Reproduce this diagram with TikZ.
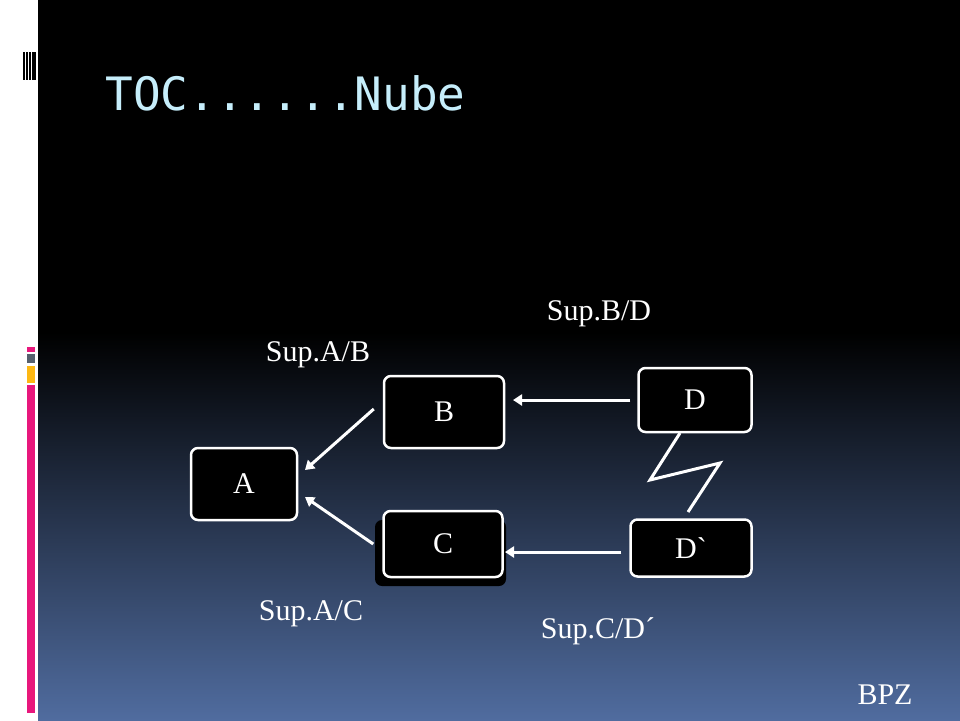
\documentclass[tikz,border=0pt]{standalone}
\usepackage{fontspec}
\setmainfont{Liberation Serif}[Ligatures=TeXOff]
\newfontfamily\titlefont{DejaVu Sans Mono}
\usetikzlibrary{arrows.meta,shadows}
\definecolor{bgblue}{HTML}{506C9F}
\definecolor{ttl}{HTML}{C6EEFB}
\definecolor{pinkbar}{HTML}{E8177C}
\definecolor{graybar}{HTML}{56606E}
\definecolor{yelbar}{HTML}{FDB813}
\tikzset{
 box/.style={draw=white,line width=2.5pt,rounded corners=7pt,fill=black,text=white,font=\fontsize{30}{34}\selectfont},
 lbl/.style={text=white,font=\fontsize{30}{34}\selectfont},
 arr/.style={white,line width=3pt,-{Triangle[length=9pt,width=11pt]}},
}
\begin{document}
\begin{tikzpicture}[x=1pt,y=-1pt]
\useasboundingbox (0,0) rectangle (960,720);
\fill[white] (0,0) rectangle (960,720);
\fill[black] (38,0) rectangle (960,333);
\shade[top color=black,bottom color=bgblue] (38,332) rectangle (960,720);
\foreach \x in {23,26,29,32,34} \fill[black] (\x,52) rectangle (\x+1.5,80);
\fill[pinkbar] (27,347) rectangle (35,352);
\fill[graybar] (27,354) rectangle (35,363);
\fill[yelbar] (27,366) rectangle (35,383);
\fill[pinkbar] (27,385) rectangle (35,713);
\node[anchor=west,text=ttl,font=\titlefont\fontsize{46}{50}\selectfont] (title) at (102,93) {TOC......Nube};
\node[box,minimum width=106,minimum height=72] (A) at (244,484) {A};
\node[box,minimum width=120,minimum height=72] (B) at (444,412) {B};
\fill[black,rounded corners=7pt] (375,520) rectangle (506,586);
\node[box,minimum width=119,minimum height=66] (C) at (443,544) {C};
\node[box,minimum width=113,minimum height=64] (D) at (695,400) {D};
\node[box,minimum width=121,minimum height=57] (Dp) at (691,548) {D\char96};
\draw[arr] (B.west) ++(-9,-3) -- (305,470);
\draw[arr] (C.west) ++(-9,0) -- (305,497);
\draw[arr] (D.west) ++(-7,0) -- (513,400);
\draw[arr] (Dp.west) ++(-8,4) -- (505,552);
\draw[white,line width=3pt] (680,433) -- (650,480) -- (720,463) -- (688,512);
\node[lbl] (lab) at (318,355) {Sup.A/B};
\node[lbl] (lbd) at (599,314) {Sup.B/D};
\node[lbl] (lac) at (311,614) {Sup.A/C};
\node[lbl] (lcd) at (598,631) {Sup.C/D´};
\node[lbl] (bpz) at (885,695) {BPZ};
\end{tikzpicture}
\end{document}
